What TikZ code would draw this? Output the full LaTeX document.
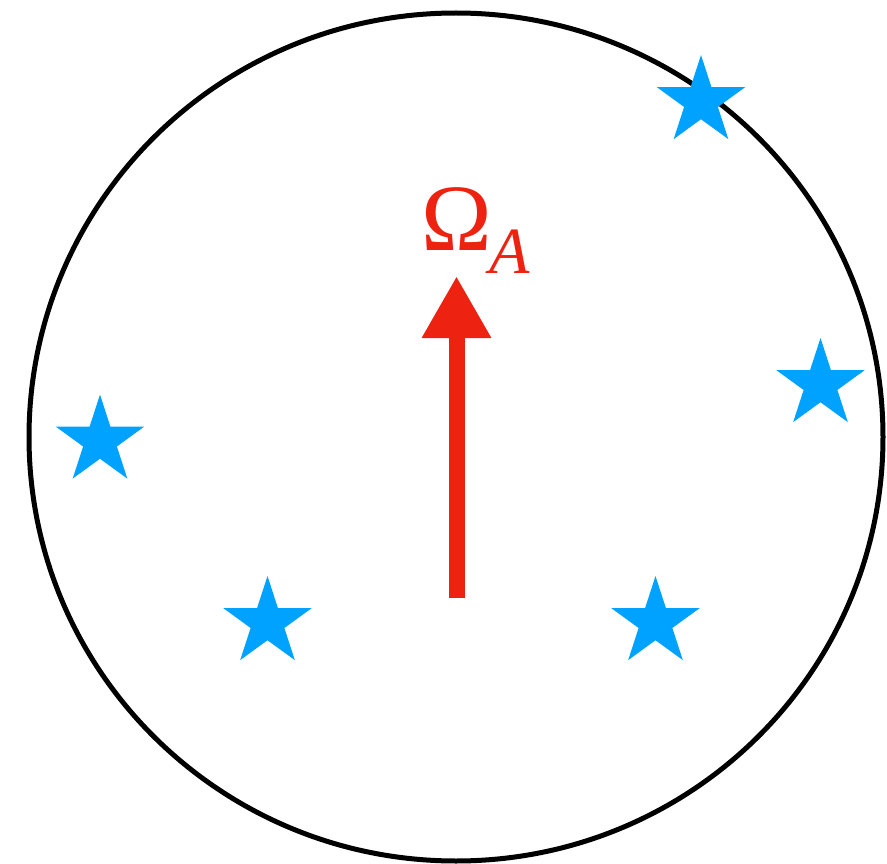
\documentclass[tikz,border=0pt]{standalone}
\usepackage{fontspec}
\setmainfont{Liberation Serif}
\usetikzlibrary{shapes.geometric,arrows.meta}
\definecolor{arrowred}{RGB}{238,34,17}
\definecolor{starblue}{RGB}{0,162,255}
\tikzset{
  starmark/.style={star, star points=5, star point ratio=2.618, minimum size=93pt, inner sep=0pt, outer sep=0pt, fill=starblue, draw=none},
  rim/.style={draw=black, line width=5pt},
  omegaarrow/.style={arrowred, line width=16pt, -{Triangle[width=65pt,length=62pt]}}
}
\begin{document}
\begin{tikzpicture}[x=1pt,y=-1pt]
\useasboundingbox (0,0) rectangle (887,864);
\coordinate (c) at (456,437);
\draw[rim] (c) ellipse [x radius=427pt, y radius=424pt];
\node[starmark] (s1) at (701,101.5) {};
\node[starmark] (s2) at (820.5,384.5) {};
\node[starmark] (s3) at (100,441) {};
\node[starmark] (s4) at (267.5,622.5) {};
\node[starmark] (s5) at (655.5,622.5) {};
\coordinate (base) at (456.5,598);
\coordinate (tip) at (456.5,276);
\draw[omegaarrow] (base) -- (tip);
\node[anchor=base west, inner sep=0pt, text=arrowred] (lbl) at (421,251)
  {\fontsize{95}{95}\selectfont Ω\kern-2pt\raisebox{-23pt}{\fontsize{66}{66}\selectfont\itshape A}};
\end{tikzpicture}
\end{document}
